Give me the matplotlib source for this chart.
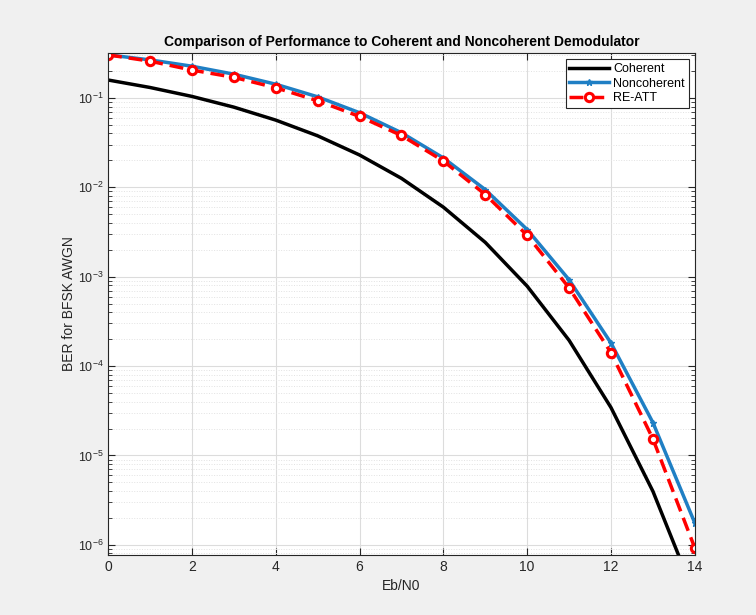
import numpy as np
import matplotlib
matplotlib.use('Agg')
import matplotlib.pyplot as plt
from matplotlib.ticker import LogLocator, NullFormatter, MultipleLocator

plt.rcParams['font.family'] = ['Liberation Sans', 'DejaVu Sans']
plt.rcParams['axes.unicode_minus'] = False
plt.rcParams['mathtext.default'] = 'regular'

ebn0 = [0, 1, 2, 3, 4, 5, 6, 7, 8, 9, 10, 11, 12, 13, 14]
ber_coherent = [0.1587, 0.1309, 0.1040, 0.0789, 0.0565, 0.0377, 0.0230, 0.0126,
                0.0060, 0.00242, 7.83e-4, 1.94e-4, 3.43e-5, 3.97e-6, 2.7e-7]
ber_noncoherent = [0.3033, 0.2664, 0.2264, 0.1844, 0.1424, 0.1029, 0.0683, 0.0408,
                   0.02132, 0.00942, 0.003369, 9.23e-4, 1.81e-4, 2.33e-5, 1.75e-6]
ber_reatt = [0.303, 0.258, 0.205, 0.170, 0.130, 0.093, 0.062, 0.038,
             0.0197, 0.0083, 0.0029, 7.5e-4, 1.41e-4, 1.53e-5, 9.2e-7]

fig = plt.figure(figsize=(7.56, 6.15), dpi=100, facecolor='#f0f0f0')
ax = fig.add_axes([0.1429, 0.0976, 0.7762, 0.8162])
ax.set_facecolor('white')

ax.semilogy(ebn0, ber_coherent, color='black', lw=2.5, label='Coherent')
ax.semilogy(ebn0, ber_noncoherent, color='#1f7fc4', lw=2.5, marker='*', ms=5,
            label='Noncoherent')
ax.semilogy(ebn0, ber_reatt, color='#ff0000', lw=2.5, ls=(0, (4, 2)), marker='o',
            ms=6, mfc='white', mec='#ff0000', mew=2.2, label='RE-ATT')

ax.set_xlim(0, 14)
ax.set_ylim(7.7e-7, 0.318)
ax.xaxis.set_major_locator(MultipleLocator(2))
ax.yaxis.set_major_locator(LogLocator(base=10, numticks=20))
ax.yaxis.set_minor_locator(LogLocator(base=10, subs=np.arange(2, 10), numticks=20))
ax.yaxis.set_minor_formatter(NullFormatter())
ax.yaxis.set_major_formatter(lambda v, p: r'$10^{%d}$' % round(np.log10(v)))

ax.grid(True, which='major', color='#dcdcdc', lw=0.8, ls='-')
ax.grid(True, which='minor', axis='y', color='#e2e2e2', lw=0.7, ls=':')
ax.set_axisbelow(True)

ax.tick_params(which='both', direction='in', top=True, right=True,
               colors='#262626', labelsize=10)
ax.tick_params(axis='y', labelsize=9, pad=3)
ax.tick_params(which='major', length=5)
ax.tick_params(which='minor', length=3)
for s in ax.spines.values():
    s.set_color('#262626')
    s.set_linewidth(0.8)

ax.set_title('Comparison of Performance to Coherent and Noncoherent Demodulator',
             fontsize=10, fontweight='bold', pad=5)
ax.set_xlabel('Eb/N0', fontsize=10, color='#262626')
ax.set_ylabel('BER for BFSK AWGN', fontsize=10, color='#262626')
ax.yaxis.set_label_coords(-0.055, 0.5)

leg = ax.legend(loc='upper right', fontsize=9, fancybox=False, framealpha=1,
                edgecolor='#262626', handlelength=3.2, borderpad=0.3,
                labelspacing=0.2, handletextpad=0.3)
leg.get_frame().set_linewidth(0.8)

fig.savefig('out.png', dpi=100, facecolor=fig.get_facecolor())
